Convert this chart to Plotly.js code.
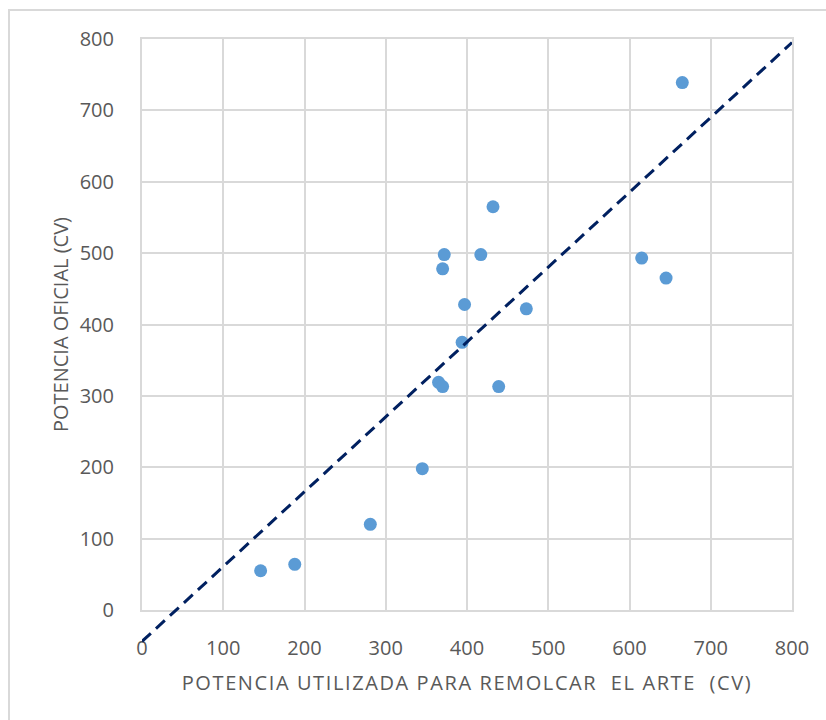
<!DOCTYPE html>
<html>
<head>
<meta charset="utf-8">
<script src="https://cdn.plot.ly/plotly-3.0.1.min.js"></script>
<style>
  html, body { margin: 0; padding: 0; background: #ffffff; }
  #wrap { position: relative; width: 826px; height: 720px; overflow: hidden; }
  #chart { position: absolute; left: 0; top: 0; width: 826px; height: 720px; }
  #frame { position: absolute; left: 8px; top: 9px; width: 900px; height: 800px;
           border: 2px solid #D9D9D9; pointer-events: none; }
  .xtitle { letter-spacing: 1.6px; }
</style>
</head>
<body>
<div id="wrap">
  <div id="chart"></div>
  <div id="frame"></div>
</div>
<script>
// Data
const potenciaUtilizada = [146, 188, 281, 345, 365, 370, 394, 397, 370, 372, 417, 432, 439, 473, 615, 645, 665];
const potenciaOficial   = [55, 64, 120, 198, 319, 313, 375, 428, 478, 498, 498, 565, 313, 422, 493, 465, 739];

// Dashed trend line (as drawn in the reference)
const trendX = [0, 800];
const trendY = [-44, 795];

const tickVals = [0, 100, 200, 300, 400, 500, 600, 700, 800];
const tickText = ['0', '100', '200', '300', '400', '500', '600', '700', '800'];

const xTitle = 'POTENCIA UTILIZADA PARA REMOLCAR\u00A0\u00A0EL ARTE\u00A0\u00A0(CV)';
const yTitle = 'POTENCIA OFICIAL (CV)';

const grey = '#D9D9D9';
const textColor = '#595959';
const fontFamily = '"Open Sans", "Liberation Sans", sans-serif';

const traces = [
  {
    type: 'scatter', mode: 'markers',
    x: potenciaUtilizada, y: potenciaOficial,
    xaxis: 'x', yaxis: 'y',
    marker: { color: '#5B9BD5', size: 13 },
    hoverinfo: 'x+y', showlegend: false
  },
  {
    type: 'scatter', mode: 'lines',
    x: trendX, y: trendY,
    xaxis: 'x2', yaxis: 'y2',
    line: { color: '#002060', width: 3, dash: '12px,7px' },
    hoverinfo: 'skip', showlegend: false
  }
];

const H = 720, W = 826;
const mT = 39, mB = 74, mL = 142, mR = 34;
const plotH = H - mT - mB;           // 607
const mainBottomFrac = 36 / plotH;   // main axis bottom at pixel 610
const pxPerUnit = (plotH * (1 - mainBottomFrac)) / 800;
const y2Min = -(plotH * mainBottomFrac) / pxPerUnit;

const layout = {
  width: W, height: H,
  margin: { l: mL, r: mR, t: mT, b: mB, pad: 0 },
  paper_bgcolor: '#ffffff',
  plot_bgcolor: 'rgba(0,0,0,0)',
  font: { family: fontFamily, color: textColor, size: 20 },
  showlegend: false,
  xaxis: {
    domain: [0, 1], anchor: 'y',
    range: [0, 800], tickvals: tickVals, ticktext: tickText,
    showgrid: true, gridcolor: grey, gridwidth: 2,
    showline: true, linecolor: grey, linewidth: 2, mirror: true,
    zeroline: false, ticks: '',
    ticklabelstandoff: 19,
    tickfont: { family: fontFamily, size: 20, color: textColor },
    title: { text: xTitle, standoff: 16, font: { family: fontFamily, size: 20, color: textColor } }
  },
  yaxis: {
    domain: [mainBottomFrac, 1], anchor: 'x',
    range: [0, 800], tickvals: tickVals, ticktext: tickText,
    showgrid: true, gridcolor: grey, gridwidth: 2,
    showline: true, linecolor: grey, linewidth: 2, mirror: true,
    zeroline: false, ticks: '',
    ticklabelstandoff: 22,
    tickfont: { family: fontFamily, size: 20, color: textColor },
    title: { text: yTitle, standoff: 6, font: { family: fontFamily, size: 20, color: textColor } }
  },
  xaxis2: {
    domain: [0, 1], anchor: 'y2', range: [0, 800],
    visible: false, showgrid: false, zeroline: false, fixedrange: true
  },
  yaxis2: {
    domain: [0, 1], anchor: 'x2', range: [y2Min, 800],
    visible: false, showgrid: false, zeroline: false, fixedrange: true
  }
};

Plotly.newPlot('chart', traces, layout, { displayModeBar: false, staticPlot: true });
</script>
</body>
</html>
